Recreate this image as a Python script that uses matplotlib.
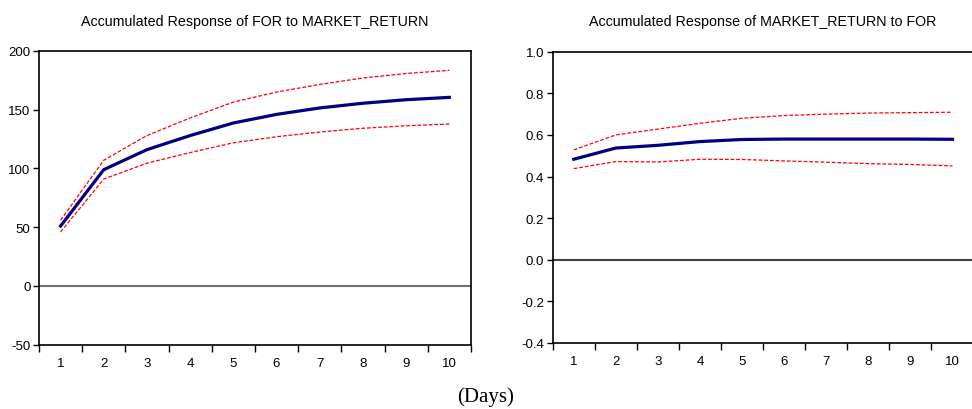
import numpy as np
import matplotlib.pyplot as plt
from matplotlib.ticker import FixedLocator, NullFormatter

plt.rcParams['font.family'] = ['Liberation Sans', 'DejaVu Sans']

days = np.arange(1, 11)
day_labels = [str(d) for d in days]

# Accumulated response of FOR to MARKET_RETURN
for_mkt = [51, 99, 116, 128, 138.7, 146, 151.5, 155.5, 158.5, 160.5]
for_mkt_hi = [56, 107, 128, 143, 156.5, 165, 171.5, 177, 180.8, 183.5]
for_mkt_lo = [46, 91, 104.5, 113.5, 121.8, 127, 131, 134.2, 136.3, 137.8]

# Accumulated response of MARKET_RETURN to FOR
mkt_for = [0.483, 0.537, 0.550, 0.568, 0.578, 0.580, 0.580, 0.580, 0.580, 0.579]
mkt_for_hi = [0.528, 0.600, 0.628, 0.656, 0.680, 0.693, 0.700, 0.705, 0.707, 0.709]
mkt_for_lo = [0.438, 0.472, 0.470, 0.483, 0.482, 0.475, 0.469, 0.462, 0.458, 0.451]

fig = plt.figure(figsize=(9.72, 4.10), dpi=100)
ax1 = fig.add_axes([0.0401, 0.1568, 0.4444, 0.7165])
ax2 = fig.add_axes([0.5686, 0.161, 0.4330, 0.7105])

panels = [
    (ax1, for_mkt, for_mkt_hi, for_mkt_lo, (-50, 200), [-50, 0, 50, 100, 150, 200],
     '{:.0f}', 'Accumulated Response of FOR to MARKET_RETURN', '#707070'),
    (ax2, mkt_for, mkt_for_hi, mkt_for_lo, (-0.4, 1.0), [-0.4, -0.2, 0.0, 0.2, 0.4, 0.6, 0.8, 1.0],
     '{:.1f}', 'Accumulated Response of MARKET_RETURN to FOR', '#404040'),
]

for ax, mid, hi, lo, ylim, yt, fmt, title, zcol in panels:
    ax.axhline(0, color=zcol, lw=1.5, zorder=1)
    ax.plot(days, hi, color='red', lw=0.9, ls=(0, (3, 1.5)), zorder=2)
    ax.plot(days, lo, color='red', lw=0.9, ls=(0, (3, 1.5)), zorder=2)
    ax.plot(days, mid, color='#000080', lw=2.3, zorder=3)
    ax.set_xlim(0.5, 10.5)
    ax.set_ylim(*ylim)
    ax.set_yticks(yt)
    ax.set_yticklabels([fmt.format(v) for v in yt])
    # labels centred on each day, tick marks between days
    ax.set_xticks(days)
    ax.set_xticklabels(day_labels)
    ax.tick_params(axis='x', which='major', length=0, pad=9, labelsize=9.5)
    ax.xaxis.set_minor_locator(FixedLocator(np.arange(0.5, 11, 1)))
    ax.xaxis.set_minor_formatter(NullFormatter())
    ax.tick_params(axis='x', which='minor', length=5, width=1, direction='out')
    ax.tick_params(axis='y', length=4, width=1, labelsize=9.5, pad=2)
    for s in ax.spines.values():
        s.set_linewidth(1.2)
    ax.set_title(title, fontsize=10.3, pad=19)

fig.text(0.5, 0.032, '(Days)', ha='center', va='center', fontsize=15,
         family=['Liberation Serif', 'DejaVu Serif'])

fig.savefig('out.png', dpi=100)
